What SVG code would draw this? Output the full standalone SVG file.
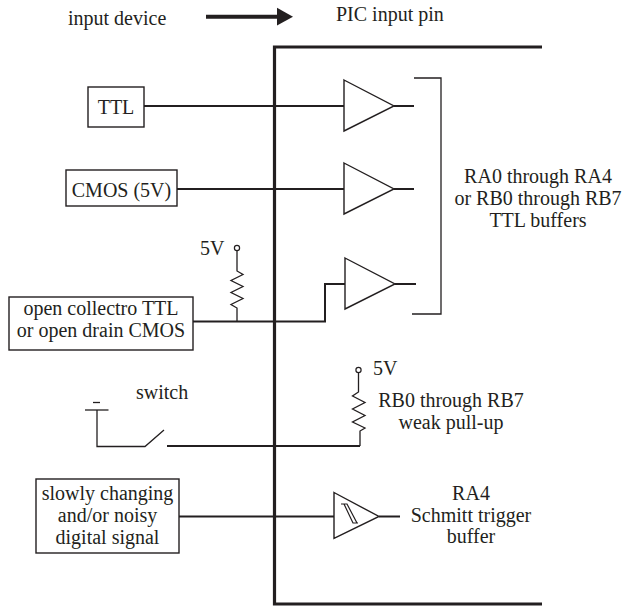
<svg xmlns="http://www.w3.org/2000/svg" width="627" height="606" viewBox="0 0 627 606" font-family="'Liberation Serif', Tinos, 'Times New Roman', 'Nimbus Roman', 'DejaVu Serif', serif" font-size="20">
<style>
  text { font-family: "Liberation Serif", Tinos, "Times New Roman", "Nimbus Roman", "DejaVu Serif", serif; font-size: 20px; fill: #231f20; }
  .c { text-anchor: middle; }
  .box { fill: #fff; stroke: #231f20; stroke-width: 1.4; }
  .wire { fill: none; stroke: #231f20; stroke-width: 2; }
  .thin { fill: none; stroke: #231f20; stroke-width: 1.3; }
  .buf { fill: #fff; stroke: #231f20; stroke-width: 1.4; stroke-linejoin: miter; }
  .pin { fill: #fff; stroke: #231f20; stroke-width: 1.2; }
</style>
<rect width="627" height="606" fill="#fff"/>

<g id="legend">
  <text x="68" y="25">input device</text>
  <line x1="206" y1="16.7" x2="278" y2="16.7" stroke="#231f20" stroke-width="4"/>
  <polygon points="277,7.8 293,16.7 277,25.6" fill="#231f20"/>
  <text x="336" y="21">PIC input pin</text>
</g>

<g id="connectors">
  <line class="wire" x1="144" y1="106" x2="344" y2="106"/>
  <line class="wire" x1="177" y1="189" x2="344" y2="189"/>
  <polyline class="wire" points="193,321.5 325,321.5 325,284 345,284"/>
  <line class="wire" x1="167" y1="446" x2="360" y2="446"/>
  <line class="wire" x1="179" y1="516.5" x2="334" y2="516.5"/>
  <line class="wire" x1="394" y1="106" x2="414" y2="106"/>
  <line class="wire" x1="394" y1="189" x2="414" y2="189"/>
  <line class="wire" x1="395" y1="284" x2="416" y2="284"/>
  <line class="wire" x1="379" y1="516.5" x2="400" y2="516.5"/>
</g>

<g id="pic-box">
  <path d="M542,47 H274.5 V604 H542" fill="none" stroke="#231f20" stroke-width="3.2"/>
</g>

<g id="ttl">
  <rect class="box" x="88" y="87" width="56" height="40"/>
  <text class="c" x="116" y="114">TTL</text>
</g>

<g id="cmos">
  <rect class="box" x="66" y="170" width="111" height="36"/>
  <text class="c" x="121.5" y="197">CMOS (5V)</text>
</g>

<g id="open-collector">
  <rect class="box" x="9" y="297" width="184" height="53"/>
  <text class="c" x="101" y="315">open collectro TTL</text>
  <text class="c" x="101" y="337">or open drain CMOS</text>
</g>

<g id="pullup-left">
  <text x="200" y="255">5V</text>
  <circle class="pin" cx="237" cy="248" r="2.6"/>
  <polyline class="thin" points="237,250.6 237,271 243,274.5 231,280.5 243,286.5 231,292.5 243,298.5 231,304.5 237,308 237,321.5"/>
</g>

<g id="switch">
  <text x="136" y="399">switch</text>
  <line class="thin" x1="93" y1="402.5" x2="100" y2="402.5"/>
  <line class="thin" x1="85" y1="410" x2="108.5" y2="410"/>
  <polyline class="thin" points="97,410 97,446.5 145,446.5 164,430"/>
</g>

<g id="pullup-right">
  <circle class="pin" cx="358.5" cy="370" r="2.6"/>
  <text x="373" y="375">5V</text>
  <polyline class="thin" points="358.5,372.6 358.5,392 352.5,396 365,402.5 352.5,409 365,415.5 352.5,422 365,428 360,431 360,446"/>
  <text class="c" x="451" y="407">RB0 through RB7</text>
  <text class="c" x="451" y="429">weak pull-up</text>
</g>

<g id="buffer-1">
  <polygon class="buf" points="344,80 394,106 344,131"/>
</g>
<g id="buffer-2">
  <polygon class="buf" points="344,163 394,189 344,214"/>
</g>
<g id="buffer-3">
  <polygon class="buf" points="345,258 395,284 345,309"/>
</g>

<g id="ttl-bracket">
  <polyline class="thin" points="414,78 441,78 441,314 412,314" stroke-width="1.1"/>
  <text class="c" x="538" y="183">RA0 through RA4</text>
  <text class="c" x="538" y="205">or RB0 through RB7</text>
  <text class="c" x="538" y="227">TTL buffers</text>
</g>

<g id="slowly">
  <rect class="box" x="36" y="479" width="143" height="74"/>
  <text class="c" x="107.5" y="500">slowly changing</text>
  <text class="c" x="107.5" y="522">and/or noisy</text>
  <text class="c" x="107.5" y="544">digital signal</text>
</g>

<g id="schmitt">
  <polygon class="buf" points="334,492.5 379,516.5 334,538.5"/>
  <path d="M341,504 H347 L357,523 M344,504 L353,523 H358" fill="none" stroke="#231f20" stroke-width="1.2"/>
  <text class="c" x="471" y="500">RA4</text>
  <text class="c" x="471" y="522">Schmitt trigger</text>
  <text class="c" x="471" y="543">buffer</text>
</g>
</svg>
